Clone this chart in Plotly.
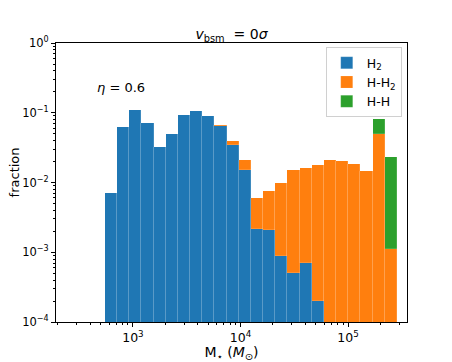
import numpy as np
import plotly.graph_objects as go

# log10 of the histogram bin edges (24 bins)
log_edges = np.linspace(2.74, 5.455, 25)

h2 = [0.00703, 0.0622, 0.110, 0.0710, 0.0321, 0.0488, 0.0935, 0.1068, 0.0905, 0.0650,
      0.0347, 0.0152, 0.00219, 0.00209, 0.000896, 0.000500, 0.000703, 0.000200, 0, 0,
      0, 0, 0, 0]
h_h2 = [0, 0, 0, 0, 0, 0, 0, 0, 0, 0.0018,
        0.0045, 0.0055, 0.0039, 0.00542, 0.00888, 0.0147, 0.0157, 0.0177, 0.0209, 0.0202,
        0.0183, 0.0145, 0.0488, 0.00111]
h_h = [0, 0, 0, 0, 0, 0, 0, 0, 0, 0,
       0, 0, 0, 0, 0, 0, 0, 0, 0, 0,
       0, 0, 0.0323, 0.0222]

series = [("H<sub>2</sub>", h2, "#1f77b4"),
          ("H-H<sub>2</sub>", h_h2, "#ff7f0e"),
          ("H-H", h_h, "#2ca02c")]

y_tickvals = [1e-4, 1e-3, 1e-2, 1e-1, 1]
y_ticktext = ["10<sup>\u22124</sup>", "10<sup>\u22123</sup>", "10<sup>\u22122</sup>",
              "10<sup>\u22121</sup>", "10<sup>0</sup>"]
x_tickvals = [1e3, 1e4, 1e5]
x_ticktext = ["10<sup>3</sup>", "10<sup>4</sup>", "10<sup>5</sup>"]

edges = 10 ** log_edges
centers = (edges[:-1] + edges[1:]) / 2
widths = edges[1:] - edges[:-1]

FONT = "DejaVu Sans"

fig = go.Figure()
for name, vals, col in series:
    fig.add_trace(go.Bar(
        x=centers, y=vals, width=widths, name=name,
        marker=dict(color=col, line=dict(width=0.4, color="rgba(255,255,255,0.35)")),
    ))

# the page body adds an 8px offset, so the figure is a bit smaller than the window
fig.update_layout(
    width=444, height=354,
    barmode="stack", bargap=0,
    margin=dict(l=48, r=45, t=35, b=40),
    plot_bgcolor="white", paper_bgcolor="white",
    font=dict(family=FONT, size=13, color="black"),
    title=dict(text="<i>v</i><sub>bsm</sub>  = 0<i>\u03c3</i>", x=0.5, xanchor="center",
               xref="paper", y=0.912, yanchor="bottom", font=dict(size=14)),
    legend=dict(x=0.985, y=0.985, xanchor="right", yanchor="top",
                bordercolor="#d0d0d0", borderwidth=1, bgcolor="rgba(255,255,255,0.8)",
                font=dict(size=12.5), traceorder="normal", itemwidth=30,
                tracegroupgap=0),
    showlegend=True,
)

fig.update_xaxes(
    type="log", range=[2.285, 5.548], automargin=False,
    tickvals=x_tickvals, ticktext=x_ticktext, tickfont=dict(size=12.5),
    ticks="outside", ticklen=4, tickcolor="black",
    minor=dict(ticks="outside", ticklen=2, tickcolor="black", dtick="D1"),
    showline=True, linecolor="black", linewidth=1, mirror=True,
    showgrid=False, zeroline=False,
    title=dict(text="M<sub>\u22c6</sub> (<i>M</i><sub>\u2299</sub>)", standoff=0,
               font=dict(size=14)),
)
fig.update_yaxes(
    type="log", range=[-4, 0], automargin=False,
    tickvals=y_tickvals, ticktext=y_ticktext, tickfont=dict(size=11.5),
    ticks="outside", ticklen=4, tickcolor="black",
    minor=dict(ticks="outside", ticklen=2, tickcolor="black", dtick="D1"),
    showline=True, linecolor="black", linewidth=1, mirror=True,
    showgrid=False, zeroline=False,
)

# y-axis label as an annotation so it sits clear of the tick labels
fig.add_annotation(x=-0.119, y=0.537, xref="paper", yref="paper",
                   text="fraction", textangle=-90, showarrow=False,
                   font=dict(size=13), xanchor="center", yanchor="middle")

fig.add_annotation(x=2.889, y=-0.641, xref="x", yref="y",
                   text="<i>\u03b7</i> = 0.6", showarrow=False,
                   font=dict(size=13), xanchor="center", yanchor="middle")

fig.write_html("out.html")
